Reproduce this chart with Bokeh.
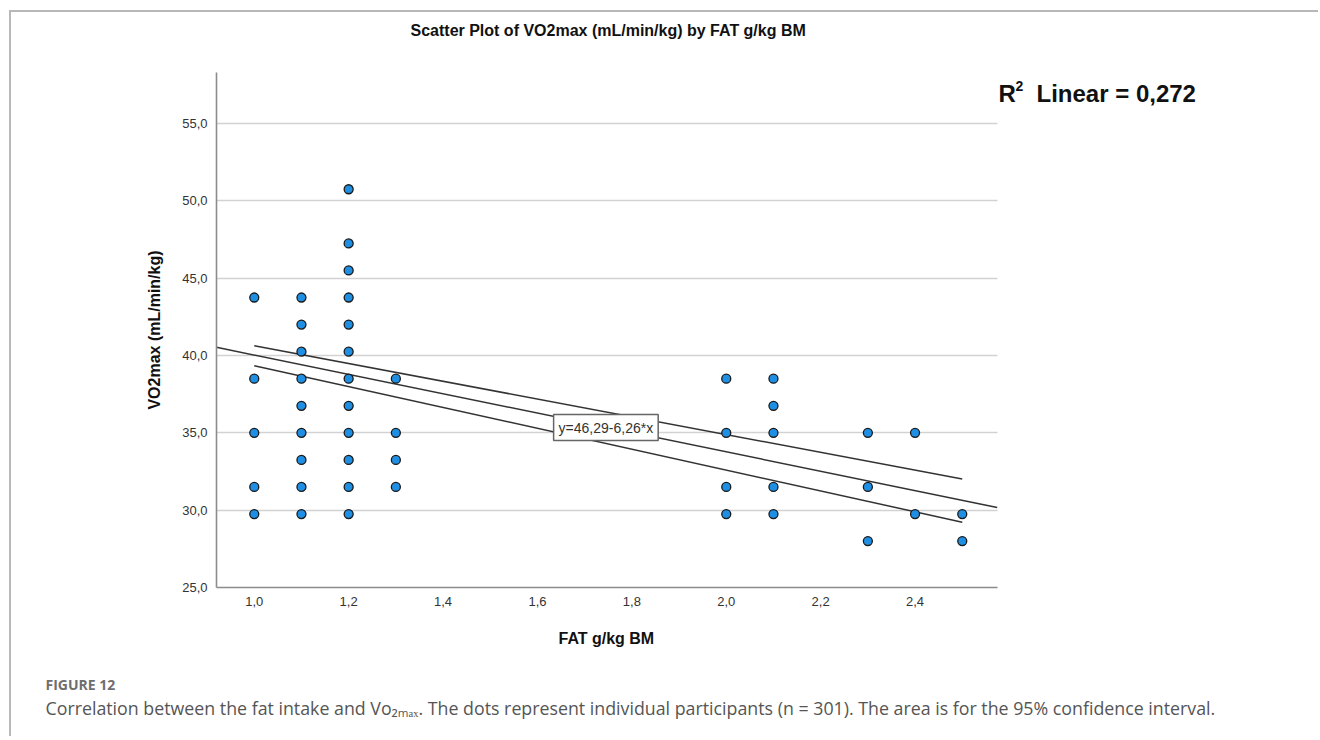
from bokeh.plotting import figure
from bokeh.models import (Label, FixedTicker, CustomJSTickFormatter, Range1d, Title)
from bokeh.embed import file_html
from bokeh.resources import INLINE

# ---------------- data ----------------
fat_g_per_kg = [1.0, 1.0, 1.0, 1.0, 1.0,
                1.1, 1.1, 1.1, 1.1, 1.1, 1.1, 1.1, 1.1, 1.1,
                1.2, 1.2, 1.2, 1.2, 1.2, 1.2, 1.2, 1.2, 1.2, 1.2, 1.2, 1.2,
                1.3, 1.3, 1.3, 1.3,
                2.0, 2.0, 2.0, 2.0,
                2.1, 2.1, 2.1, 2.1, 2.1,
                2.3, 2.3, 2.3,
                2.4, 2.4,
                2.5, 2.5]
vo2max = [43.75, 38.5, 35.0, 31.5, 29.75,
          43.75, 42.0, 40.25, 38.5, 36.75, 35.0, 33.25, 31.5, 29.75,
          50.75, 47.25, 45.5, 43.75, 42.0, 40.25, 38.5, 36.75, 35.0, 33.25, 31.5, 29.75,
          38.5, 35.0, 33.25, 31.5,
          38.5, 35.0, 31.5, 29.75,
          38.5, 36.75, 35.0, 31.5, 29.75,
          35.0, 31.5, 28.0,
          35.0, 29.75,
          29.75, 28.0]

fit_intercept = 46.29
fit_slope = -6.26
r_squared = "0,272"

ci_x = [1.0, 2.5]
ci_upper = [40.63, 32.02]
ci_lower = [39.34, 29.22]

x_ticks = [1.0, 1.2, 1.4, 1.6, 1.8, 2.0, 2.2, 2.4]
y_ticks = [25.0, 30.0, 35.0, 40.0, 45.0, 50.0, 55.0]
x_axis_extent = (0.92, 2.574)
y_axis_extent = (25.0, 58.3)

title_text = "Scatter Plot of VO2max (mL/min/kg) by FAT g/kg BM"
x_label = "FAT g/kg BM"
y_label = "VO2max (mL/min/kg)"
fig_label = "FIGURE 12"
caption = ("Correlation between the fat intake and Vo\u2082\u2098\u2090\u2093. The dots represent "
           "individual participants (n = 301). The area is for the 95% confidence interval.")

# ---------------- figure ----------------
W, H = 1309, 726
LEFT, TOP, RIGHT, BOTTOM = 205, 60, 10, 151
PX_PER_UNIT = 472.0  # horizontal scale so that the axis area matches the original
x_view_end = x_axis_extent[0] + (W - LEFT - RIGHT) / PX_PER_UNIT

p = figure(width=W, height=H, output_backend="svg", toolbar_location=None,
           x_range=Range1d(x_axis_extent[0], x_view_end),
           y_range=Range1d(*y_axis_extent),
           min_border_left=LEFT, min_border_top=TOP, min_border_right=RIGHT,
           min_border_bottom=BOTTOM, background_fill_color="white",
           border_fill_color="white", outline_line_color=None)
p.styles = {"border-top": "2px solid #b8b8b8", "border-left": "2px solid #b8b8b8",
            "margin-left": "9px", "margin-top": "10px"}

FONT = "Liberation Sans"
for ax in (p.xaxis[0], p.yaxis[0]):
    ax.axis_line_color = "#8c8c8c"
    ax.axis_line_width = 1.6
    ax.major_tick_line_color = None
    ax.minor_tick_line_color = None
    ax.major_label_text_font = FONT
    ax.major_label_text_font_size = "13px"
    ax.major_label_text_color = "#333333"
    ax.axis_label_text_font = FONT
    ax.axis_label_text_font_style = "bold"
    ax.axis_label_text_font_size = "16px"
    ax.axis_label_text_color = "#111111"
    ax.formatter = CustomJSTickFormatter(code="return tick.toFixed(1).replace('.', ',');")

p.xaxis.bounds = x_axis_extent
p.xaxis.ticker = FixedTicker(ticks=x_ticks)
p.yaxis.ticker = FixedTicker(ticks=y_ticks)
p.yaxis.axis_label = y_label
p.xaxis.major_label_standoff = 3
p.yaxis.major_label_standoff = 3
p.yaxis.axis_label_standoff = 16

p.xgrid.grid_line_color = None
p.ygrid.grid_line_color = "#d2d2d2"
p.ygrid.grid_line_width = 1.6
p.ygrid.cross_bounds = x_axis_extent

# title: a blank spacer title next to the frame, the real title above it
p.add_layout(Title(text=" ", text_font_size="10px", standoff=21), "above")
p.title.text = title_text
p.title.align = "left"
p.title.offset = 194
p.title.standoff = 0
p.title.text_font = FONT
p.title.text_font_style = "bold"
p.title.text_font_size = "16px"
p.title.text_color = "#111111"

# regression line (over the axis extent) and CI
fit_x = list(x_axis_extent)
fit_y = [fit_intercept + fit_slope * v for v in fit_x]
p.line(fit_x, fit_y, line_color="#333333", line_width=1.5)
p.line(ci_x, ci_upper, line_color="#333333", line_width=1.5)
p.line(ci_x, ci_lower, line_color="#333333", line_width=1.5)

# points
p.scatter(fat_g_per_kg, vo2max, size=9, fill_color="#1f8fe3",
          line_color="#1a1a1a", line_width=1.3)

# equation box
eq = "y={:.2f}-{:.2f}*x".format(fit_intercept, abs(fit_slope)).replace(".", ",")
p.add_layout(Label(x=1.745, y=35.34, text=eq, text_align="center",
                   text_baseline="middle", text_font=FONT, text_font_size="14px",
                   text_color="#333333", background_fill_color="white",
                   border_line_color="#666666", border_line_width=1.5, padding=5))

# R^2 annotation (screen px from the frame's bottom-left)
r2_parts = [("R", 782, 494, "24px"), ("2", 799, 502, "14px"),
            ("Linear = " + r_squared, 820, 494, "24px")]
for txt, sx, sy, fs in r2_parts:
    p.add_layout(Label(x=sx, y=sy, x_units="screen", y_units="screen", text=txt,
                       text_align="left", text_baseline="middle", text_font=FONT,
                       text_font_style="bold", text_font_size=fs, text_color="#111111"))

# x-axis title, centred under the axis extent, then the figure caption
p.add_layout(Title(text=x_label, align="left", offset=342, standoff=38,
                   text_font=FONT, text_font_style="bold", text_font_size="16px",
                   text_color="#111111"), "below")
p.add_layout(Title(text=fig_label, align="left", offset=-171, standoff=14,
                   text_font="Open Sans", text_font_style="bold", text_font_size="14px",
                   text_color="#6e6e6e"), "below")
p.add_layout(Title(text=caption, align="left", offset=-171, standoff=-14,
                   text_font="Open Sans", text_font_style="normal", text_font_size="17.8px",
                   text_color="#555555"), "below")

open("out.html", "w").write(file_html(p, INLINE))
